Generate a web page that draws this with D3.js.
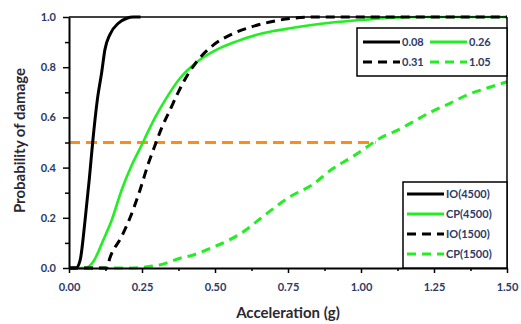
<!DOCTYPE html>
<html>
<head>
<meta charset="utf-8">
<script src="https://cdn.jsdelivr.net/npm/d3@7"></script>
<style>
  body { margin: 0; background: #fff; }
  svg text { font-family: Lato, "Open Sans", sans-serif; font-weight: bold; }
</style>
</head>
<body>
<div id="chart"></div>
<script>
// acceleration (g) / probability pairs
const io4500 = [[0, 0], [0.024, 0], [0.038, 0.03], [0.055, 0.19], [0.07, 0.36], [0.081, 0.5], [0.097, 0.67],
  [0.112, 0.78], [0.123, 0.87], [0.14, 0.93], [0.169, 0.975], [0.198, 0.995], [0.22, 1.0], [0.245, 1.0]];
const cp4500 = [[0, 0], [0.055, 0], [0.083, 0.025], [0.117, 0.11], [0.146, 0.19], [0.18, 0.31], [0.215, 0.41],
  [0.249, 0.49], [0.26, 0.517], [0.295, 0.6], [0.335, 0.68], [0.38, 0.756], [0.437, 0.82], [0.506, 0.87],
  [0.574, 0.903], [0.64, 0.928], [0.7, 0.944], [0.757, 0.955], [0.894, 0.977], [0.997, 0.988], [1.19, 1.0], [1.5, 1.0]];
const io1500 = [[0, 0], [0.129, 0], [0.14, 0.04], [0.18, 0.125], [0.209, 0.2], [0.243, 0.31], [0.272, 0.417],
  [0.295, 0.49], [0.317, 0.557], [0.346, 0.63], [0.374, 0.7], [0.409, 0.775], [0.443, 0.83], [0.494, 0.888],
  [0.551, 0.928], [0.62, 0.959], [0.688, 0.98], [0.767, 0.995], [0.85, 1.0], [1.5, 1.0]];
const cp1500 = [[0, 0], [0.2, 0], [0.31, 0.012], [0.38, 0.039], [0.426, 0.052], [0.483, 0.078], [0.546, 0.11],
  [0.603, 0.149], [0.648, 0.19], [0.757, 0.284], [0.831, 0.33], [0.905, 0.397], [0.962, 0.437], [1.014, 0.477],
  [1.065, 0.517], [1.122, 0.547], [1.179, 0.583], [1.242, 0.623], [1.305, 0.656], [1.362, 0.689], [1.43, 0.716],
  [1.5, 0.742]];
const halfLine = [[0, 0.5], [1.05, 0.5]];

const xTicks = [0, 0.25, 0.5, 0.75, 1.0, 1.25, 1.5];
const yTicks = [0, 0.2, 0.4, 0.6, 0.8, 1.0];
const medianLabels = ["0.08", "0.26", "0.31", "1.05"];
const seriesNames = ["IO(4500)", "CP(4500)", "IO(1500)", "CP(1500)"];

const width = 521, height = 324;
const margin = { top: 17, right: 14, bottom: 56, left: 69 };
const green = "#22ee22", orange = "#ff8c1a";
const labelColor = "#2c3a66", titleColor = "#2b2830";

const styles = [
  { color: "#000", dash: null, w: 3 },
  { color: green, dash: null, w: 2.6 },
  { color: "#000", dash: "9,6", w: 3 },
  { color: green, dash: "9,6", w: 3 }
];

const svg = d3.select("#chart").append("svg")
  .attr("width", width)
  .attr("height", height);

const x = d3.scaleLinear().domain([0, 1.5]).range([margin.left, width - margin.right]);
const y = d3.scaleLinear().domain([0, 1]).range([height - margin.bottom, margin.top]);

const line = d3.line()
  .x(d => x(d[0]))
  .y(d => y(d[1]))
  .curve(d3.curveMonotoneX);

// half line first so curves sit above it
svg.append("path")
  .datum(halfLine)
  .attr("d", line)
  .attr("fill", "none")
  .attr("stroke", orange)
  .attr("stroke-width", 3)
  .attr("stroke-dasharray", "11,6");

const allSeries = [io4500, cp4500, io1500, cp1500];
[3, 1, 2, 0].forEach(i => {
  svg.append("path")
    .datum(allSeries[i])
    .attr("d", line)
    .attr("fill", "none")
    .attr("stroke", styles[i].color)
    .attr("stroke-width", styles[i].w)
    .attr("stroke-dasharray", styles[i].dash);
});

// frame
svg.append("line")
  .attr("x1", x(0)).attr("x2", x(1.5))
  .attr("y1", y(1)).attr("y2", y(1))
  .attr("stroke", "#000").attr("stroke-width", 1.5);
svg.append("line")
  .attr("x1", x(1.5)).attr("x2", x(1.5))
  .attr("y1", y(1)).attr("y2", y(0))
  .attr("stroke", "#000").attr("stroke-width", 1.5);

// minor ticks
const xMinor = d3.range(0.125, 1.5, 0.25);
const yMinor = d3.range(0.1, 1.0, 0.2);
svg.append("g")
  .attr("transform", "translate(0," + y(0) + ")")
  .call(d3.axisBottom(x).tickValues(xMinor).tickSize(3).tickFormat(""))
  .call(g => g.select(".domain").remove())
  .selectAll("line").attr("stroke-width", 1.5);
svg.append("g")
  .attr("transform", "translate(" + x(0) + ",0)")
  .call(d3.axisLeft(y).tickValues(yMinor).tickSize(4).tickFormat(""))
  .call(g => g.select(".domain").remove())
  .selectAll("line").attr("stroke-width", 1.5);

const xAxis = svg.append("g")
  .attr("transform", "translate(0," + y(0) + ")")
  .call(d3.axisBottom(x).tickValues(xTicks).tickSize(5).tickPadding(10).tickSizeOuter(0)
    .tickFormat(d3.format(".2f")));
const yAxis = svg.append("g")
  .attr("transform", "translate(" + x(0) + ",0)")
  .call(d3.axisLeft(y).tickValues(yTicks).tickSize(6).tickPadding(7).tickSizeOuter(0)
    .tickFormat(d3.format(".1f")));

[xAxis, yAxis].forEach(g => {
  g.select(".domain").attr("stroke-width", 2);
  g.selectAll(".tick line").attr("stroke-width", 1.5);
  g.selectAll(".tick text").attr("fill", labelColor).style("font-size", "11px");
});

svg.append("text")
  .attr("x", (x(0) + x(1.5)) / 2)
  .attr("y", 318)
  .attr("text-anchor", "middle")
  .attr("fill", titleColor)
  .style("font-size", "15px")
  .text("Acceleration (g)");

svg.append("text")
  .attr("transform", "translate(25," + (y(0.5) - 2) + ") rotate(-90)")
  .attr("text-anchor", "middle")
  .attr("fill", titleColor)
  .style("font-size", "15px")
  .text("Probability of damage");

// legend with the median values
const leg1 = svg.append("g");
leg1.append("rect")
  .attr("x", 357).attr("y", 28)
  .attr("width", x(1.5) - 357).attr("height", 48)
  .attr("fill", "#fff").attr("stroke", "#000").attr("stroke-width", 1.5);
medianLabels.forEach((t, i) => {
  const col = i % 2, row = Math.floor(i / 2);
  const lx = 363 + col * 67, ly = 42 + row * 20;
  leg1.append("line")
    .attr("x1", lx).attr("x2", lx + 37)
    .attr("y1", ly).attr("y2", ly)
    .attr("stroke", styles[i].color)
    .attr("stroke-width", 3)
    .attr("stroke-dasharray", styles[i].dash);
  leg1.append("text")
    .attr("x", lx + 39).attr("y", ly + 4)
    .attr("fill", labelColor)
    .style("font-size", "11px")
    .text(t);
});

// legend with the series names
const leg2 = svg.append("g");
leg2.append("rect")
  .attr("x", 403).attr("y", 182)
  .attr("width", x(1.5) - 403).attr("height", y(0) - 182)
  .attr("fill", "#fff").attr("stroke", "#000").attr("stroke-width", 1.5);
seriesNames.forEach((t, i) => {
  const ly = 194 + i * 20;
  leg2.append("line")
    .attr("x1", 407).attr("x2", 444)
    .attr("y1", ly).attr("y2", ly)
    .attr("stroke", styles[i].color)
    .attr("stroke-width", 3)
    .attr("stroke-dasharray", styles[i].dash);
  leg2.append("text")
    .attr("x", 446).attr("y", ly + 4)
    .attr("fill", labelColor)
    .style("font-size", "11px")
    .text(t);
});
</script>
</body>
</html>
